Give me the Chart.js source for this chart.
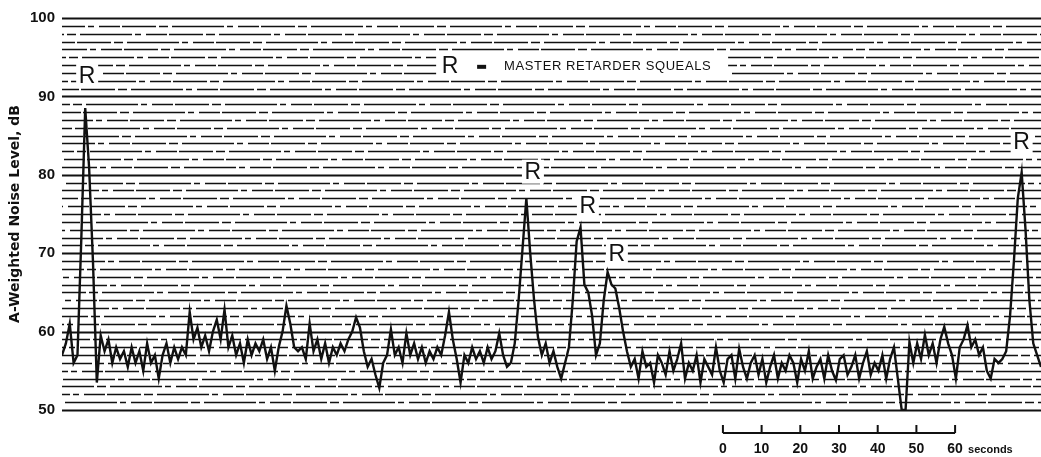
<!DOCTYPE html>
<html lang="en">
<head>
    <meta charset="UTF-8">
    <title>A-Weighted Noise Level</title>
    <style>
        body {
            margin: 0;
            background: white;
        }
        .wrap {
            position: relative;
            width: 1041px;
            height: 457px;
        }
    </style>
</head>
<body>
    <div class="wrap">
        <canvas id="chart"></canvas>
    </div>

    <script src="https://cdn.jsdelivr.net/npm/chart.js"></script>
    <script>
        // one reading per second
        const SAMPLE_STEP = 1;
        const noiseLevels = [
            57, 58.5, 61, 56, 57, 72, 88.5, 81, 69, 53.5,
            59.5, 57.5, 59, 56, 58, 56.5, 57.5, 55.5, 58, 56,
            57.5, 55, 58.5, 56, 57, 54, 57, 58.5, 56, 58,
            56.5, 58, 57, 62.5, 59, 60.5, 58, 59.5, 57.5, 60,
            61.5, 59, 62.8, 58, 59.5, 57, 58.5, 56, 59, 57,
            58.5, 57.5, 59, 56.5, 58, 55, 58, 60, 63.3, 61,
            58, 57.5, 58, 56.5, 61, 57.5, 59, 56.5, 58.5, 56,
            58, 57, 58.5, 57.5, 59, 60, 61.8, 60.5, 57.5, 55.5,
            56.5, 54.5, 52.8, 56, 57, 60.3, 57, 58, 56, 59.8,
            57, 58.5, 56.5, 58, 56, 57.5, 56.5, 58, 57, 59.5,
            62.5, 59, 56.5, 53.5, 57, 56, 58, 56.5, 57.5, 56,
            58, 56.5, 57.5, 59.8, 57, 55.5, 56, 58.5, 64, 70.5,
            77, 70, 64, 59.3, 57, 58.5, 56, 57.5, 55.5, 54,
            56, 58, 64, 71.5, 73.3, 66, 65, 62, 57, 58.5,
            64, 67.6, 66, 65.5, 63, 60, 57.5, 55.5, 56.5, 54,
            57.5, 55.5, 56, 53.5, 57, 56, 54.5, 57.5, 55, 56.5,
            58.5, 54, 56, 55, 57, 53.5, 56.5, 55.5, 54.5, 58,
            55, 53.5, 56.5, 57, 54, 57.8, 55.5, 54, 56, 57,
            54.5, 56.5, 53.5, 55.5, 57, 54, 56, 55, 57, 56,
            53.5, 56.5, 55, 57.5, 54, 55.5, 56.5, 54, 57, 55,
            53.8, 56.5, 57, 54.5, 55.5, 57, 54, 56, 57.5, 54.5,
            56, 55, 57, 54, 56.5, 58, 54, 50, 50, 58.7,
            56, 58.5, 56.5, 59.6, 57, 58.5, 56, 59, 60.6, 58.5,
            57, 54, 58, 59, 60.8, 58, 59, 57, 58, 55,
            54, 56.5, 56, 56.5, 57.5, 62, 69, 77, 80.3, 73,
            64, 58.5, 57, 55.5
        ];

        // "R" markers: time (s) and level (dB) where each letter sits
        const squealTimes = [6.5, 121.7, 135.9, 143.4, 248];
        const squealLevels = [92.6, 80.4, 76.1, 70.0, 84.2];

        const legendTime = 100.3;
        const legendLevel = 93.9;
        const legendText = 'MASTER RETARDER SQUEALS';

        // time scale bar drawn under the trace
        const scaleStart = 170.8;
        const scaleTicks = [0, 10, 20, 30, 40, 50, 60];

        const yMin = 50;
        const yMax = 100;

        const points = noiseLevels.map((v, i) => ({ x: i * SAMPLE_STEP, y: v }));

        // horizontal chart-paper rulings, broken up like the printed grid
        const paperGrid = {
            id: 'paperGrid',
            beforeDatasetsDraw(chart) {
                const ctx = chart.ctx;
                const y = chart.scales.y;
                const area = chart.chartArea;
                ctx.save();
                ctx.strokeStyle = '#111';
                y.ticks.forEach((t, i) => {
                    const py = Math.round(y.getPixelForValue(t.value)) + 0.5;
                    const major = t.value % 10 === 0;
                    ctx.lineWidth = major ? 2.2 : 1.7;
                    ctx.setLineDash(major ? [] : [34, 3, 9, 4, 52, 3, 6, 5, 21, 2]);
                    ctx.lineDashOffset = (i * 47) % 139;
                    ctx.beginPath();
                    ctx.moveTo(area.left, py);
                    ctx.lineTo(area.right, py);
                    ctx.stroke();
                });
                ctx.restore();
            }
        };

        const annotations = {
            id: 'annotations',
            afterDatasetsDraw(chart) {
                const ctx = chart.ctx;
                const x = chart.scales.x;
                const y = chart.scales.y;
                ctx.save();
                ctx.textAlign = 'center';
                ctx.textBaseline = 'middle';

                // R letters with a white patch behind them
                ctx.font = '23px "Liberation Sans", Arial, sans-serif';
                squealTimes.forEach((t, i) => {
                    const px = x.getPixelForValue(t);
                    const py = y.getPixelForValue(squealLevels[i]);
                    ctx.fillStyle = 'white';
                    ctx.fillRect(px - 11, py - 12, 22, 24);
                    ctx.fillStyle = '#111';
                    ctx.fillText('R', px, py + 1);
                });

                // legend line
                const lx = x.getPixelForValue(legendTime);
                const ly = y.getPixelForValue(legendLevel);
                ctx.fillStyle = 'white';
                ctx.fillRect(lx - 14, ly - 13, 292, 26);
                ctx.fillStyle = '#111';
                ctx.fillText('R', lx, ly + 1);
                ctx.fillRect(lx + 27, ly - 1, 9, 4);
                ctx.textAlign = 'left';
                ctx.font = '13px "Liberation Sans", Arial, sans-serif';
                ctx.letterSpacing = '0.6px';
                ctx.fillText(legendText, lx + 54, ly + 1);
                ctx.letterSpacing = '0px';

                // seconds scale bar
                const barY = 433;
                const x0 = x.getPixelForValue(scaleStart);
                const x1 = x.getPixelForValue(scaleStart + scaleTicks[scaleTicks.length - 1]);
                ctx.strokeStyle = '#111';
                ctx.lineWidth = 2;
                ctx.beginPath();
                ctx.moveTo(x0, barY);
                ctx.lineTo(x1, barY);
                scaleTicks.forEach(s => {
                    const px = x.getPixelForValue(scaleStart + s);
                    ctx.moveTo(px, barY);
                    ctx.lineTo(px, barY - 8);
                });
                ctx.stroke();

                ctx.textAlign = 'center';
                ctx.font = 'bold 14px "Liberation Sans", Arial, sans-serif';
                scaleTicks.forEach(s => {
                    const px = x.getPixelForValue(scaleStart + s);
                    ctx.fillText(String(s), px, 449);
                });
                ctx.textAlign = 'left';
                ctx.font = 'bold 11px "Liberation Sans", Arial, sans-serif';
                ctx.fillText('seconds', x1 + 13, 450);
                ctx.restore();
            }
        };

        new Chart(document.getElementById('chart'), {
            type: 'line',
            data: {
                datasets: [{
                    data: points,
                    borderColor: '#111',
                    borderWidth: 2.4,
                    pointRadius: 0,
                    tension: 0,
                    fill: false
                }]
            },
            options: {
                responsive: true,
                maintainAspectRatio: false,
                animation: false,
                events: [],
                layout: {
                    padding: { top: 18, bottom: 47, left: 0, right: 0 }
                },
                plugins: {
                    legend: { display: false },
                    tooltip: { enabled: false }
                },
                scales: {
                    x: {
                        type: 'linear',
                        display: false,
                        min: 0,
                        max: (noiseLevels.length - 1) * SAMPLE_STEP
                    },
                    y: {
                        min: yMin,
                        max: yMax,
                        afterFit: s => { s.width = 62; },
                        grid: { display: false, drawTicks: false },
                        border: { display: false },
                        ticks: {
                            stepSize: 1,
                            autoSkip: false,
                            padding: 7,
                            color: '#111',
                            font: { family: '"Liberation Sans", Arial, sans-serif', size: 15, weight: 'bold' },
                            callback: v => (v % 10 === 0 ? v : '')
                        },
                        title: {
                            display: true,
                            text: 'A-Weighted Noise Level, dB',
                            color: '#111',
                            padding: { top: 7, bottom: 0 },
                            font: { family: '"DejaVu Sans", sans-serif', size: 14, weight: 'bold' }
                        }
                    }
                }
            },
            plugins: [paperGrid, annotations]
        });
    </script>
</body>
</html>
